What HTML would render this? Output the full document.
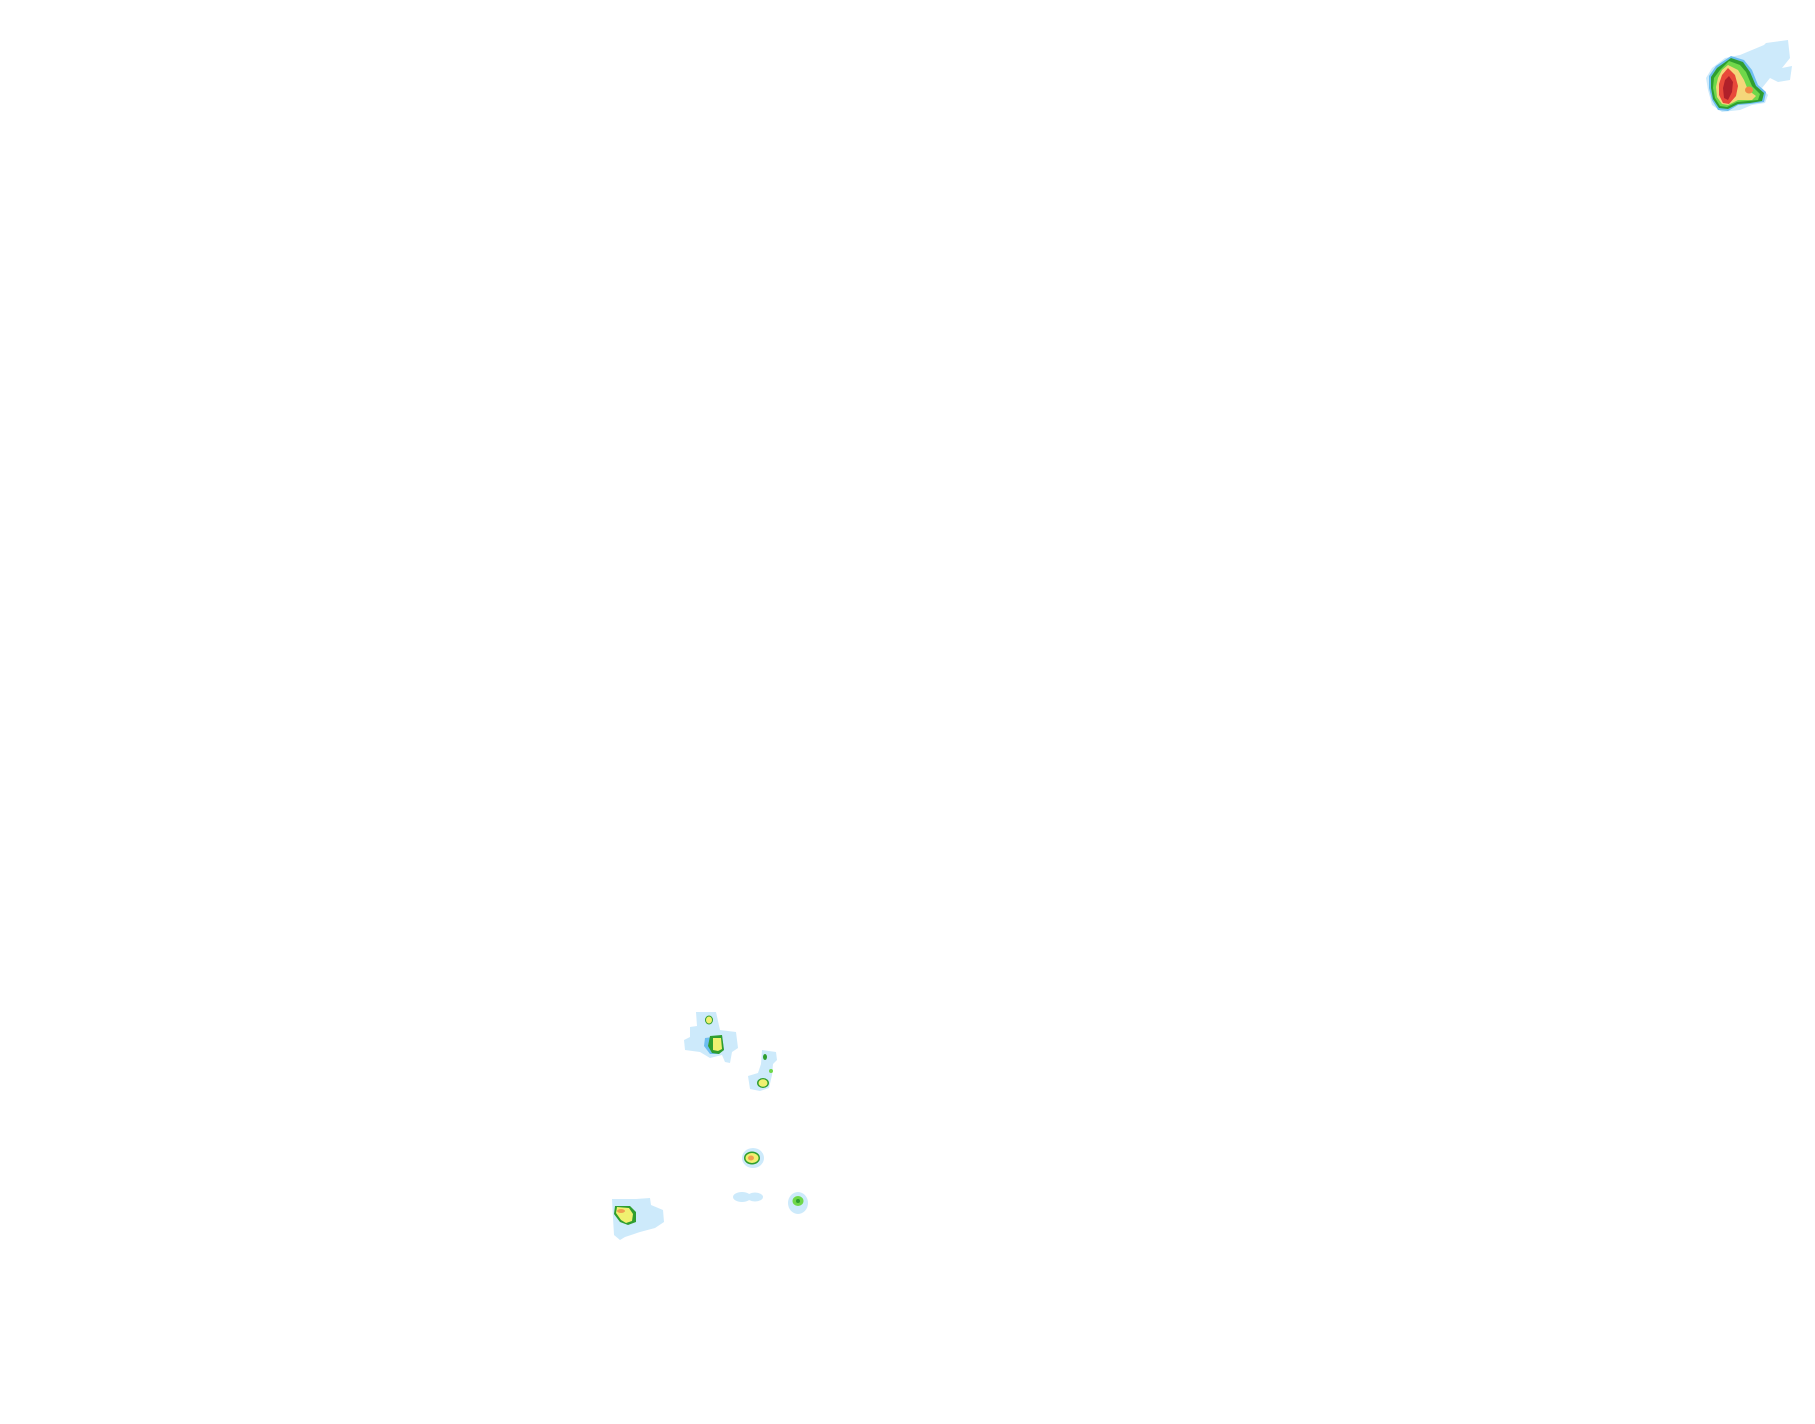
<!DOCTYPE html>
<html><head><meta charset="utf-8"><style>html,body{margin:0;padding:0;background:#fff;width:1815px;height:1424px;overflow:hidden}</style></head>
<body>
<svg width="1815" height="1424" viewBox="0 0 1815 1424" xmlns="http://www.w3.org/2000/svg">
<!-- top-right storm -->
<g>
<polygon fill="#cdeafb" points="1766,43 1788,40 1790,58 1782,68 1792,66 1790,80 1778,82 1770,78 1762,88 1768,95 1765,103 1752,105 1740,110 1722,112 1712,105 1708,90 1706,78 1712,68 1725,58 1740,55 1752,50 1764,45"/>
<polygon fill="#6dbdf0" points="1731,56 1744,60 1752,70 1758,85 1766,92 1764,102 1750,104 1738,105 1728,111 1718,110 1712,100 1709,88 1709,76 1716,66"/>
<polygon fill="#2f9e2f" points="1731,58 1743,62 1750,72 1756,86 1764,93 1762,101 1750,103 1738,104 1728,109 1719,108 1713,99 1711,88 1711,77 1717,68"/>
<polygon fill="#6fd84a" points="1729,61 1740,65 1746,72 1752,86 1760,94 1758,100 1748,101 1737,102 1727,107 1720,106 1715,98 1713,88 1714,78 1720,70"/>
<polygon fill="#f5d77a" points="1728,65 1738,70 1744,80 1748,90 1756,96 1752,100 1738,100 1728,105 1722,104 1717,97 1716,87 1718,78 1722,70"/>
<polygon fill="#e8493a" points="1728,68 1735,75 1738,86 1736,96 1729,104 1723,103 1719,95 1719,84 1722,75"/>
<polygon fill="#b0202a" points="1729,76 1733,82 1732,92 1728,100 1724,98 1723,88 1725,80"/>
<ellipse cx="1749" cy="90" rx="4" ry="3.5" fill="#f08a45"/>
</g>
<!-- blob A -->
<polygon fill="#cdeafb" points="696,1012 716,1012 720,1030 736,1032 738,1048 732,1052 730,1063 725,1062 722,1055 710,1058 700,1052 685,1050 684,1040 690,1037 690,1027 697,1026"/>
<ellipse cx="709" cy="1020" rx="4" ry="4.5" fill="#2f9e2f"/><ellipse cx="709" cy="1020" rx="3" ry="3.5" fill="#f0f070"/>
<polygon fill="#6dbdf0" points="705,1038 713,1037 722,1035 724,1050 718,1054 710,1054 704,1046"/>
<polygon fill="#2f9e2f" points="710,1036 722,1035 724,1050 719,1054 712,1053 708,1046"/>
<polygon fill="#f0f070" points="713,1038 721,1038 722,1049 718,1051 713,1050"/>
<!-- blob B -->
<polygon fill="#cdeafb" points="762,1050 776,1052 777,1060 773,1064 772,1075 769,1088 760,1091 750,1089 748,1076 758,1073 761,1064"/>
<ellipse cx="765" cy="1057" rx="2" ry="3" fill="#2f9e2f"/><ellipse cx="771" cy="1071" rx="2" ry="2" fill="#6fd84a"/>
<ellipse cx="763" cy="1083" rx="6" ry="5" fill="#2f9e2f"/><ellipse cx="763" cy="1083" rx="4.5" ry="3.8" fill="#f0f070"/>
<!-- blob C -->
<ellipse cx="753" cy="1158" rx="11" ry="10" fill="#cdeafb"/>
<ellipse cx="752" cy="1158" rx="8" ry="6.5" fill="#2f9e2f"/><ellipse cx="752" cy="1158" rx="6.5" ry="5" fill="#f0f070"/><ellipse cx="751" cy="1158" rx="3" ry="2.5" fill="#f0a050"/>
<!-- blob D -->
<ellipse cx="742" cy="1197" rx="9" ry="5" fill="#cdeafb"/><ellipse cx="755" cy="1197" rx="8" ry="4.5" fill="#cdeafb"/>
<!-- blob E -->
<ellipse cx="798" cy="1203" rx="10" ry="11" fill="#cdeafb"/>
<ellipse cx="798" cy="1201" rx="5.5" ry="5" fill="#6fd84a"/><ellipse cx="798" cy="1201" rx="2" ry="2" fill="#2f9e2f"/>
<!-- blob F -->
<polygon fill="#cdeafb" points="612,1199 636,1199 650,1198 651,1205 663,1210 664,1222 655,1228 640,1232 625,1237 620,1240 614,1235 613,1218"/>
<polygon fill="#2f9e2f" points="615,1206 630,1206 636,1212 636,1222 628,1225 620,1222 614,1214"/>
<polygon fill="#f0f070" points="617,1207 629,1208 633,1214 632,1221 626,1223 621,1220 616,1213"/>
<ellipse cx="621" cy="1211" rx="4" ry="2" fill="#f0a050"/>
</svg>
</body></html>
